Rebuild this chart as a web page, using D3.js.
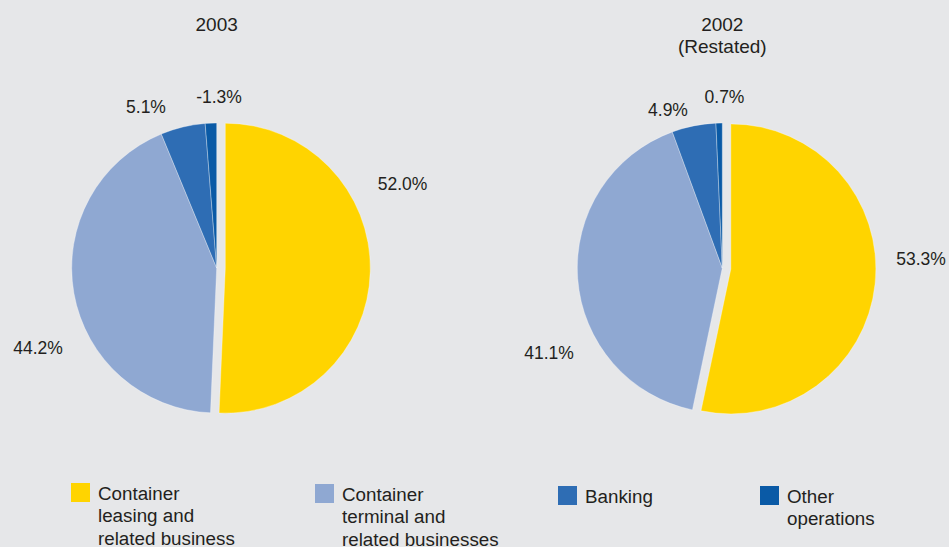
<!DOCTYPE html>
<html>
<head>
<meta charset="utf-8">
<script src="https://cdn.jsdelivr.net/npm/d3@7"></script>
<style>
  html, body { margin: 0; padding: 0; background: #e6e7e9; }
  svg { display: block; }
  text { font-family: "Liberation Sans", Arial, Helvetica, sans-serif; fill: #231f20; }
</style>
</head>
<body>
<svg id="chart" width="949" height="547"></svg>
<script>
// ---- Data ----
const categories = ["Container leasing and related business", "Container terminal and related businesses", "Banking", "Other operations"];
const legendLines = [
  ["Container", "leasing and", "related business"],
  ["Container", "terminal and", "related businesses"],
  ["Banking"],
  ["Other", "operations"]
];
const values2003 = [52.0, 44.2, 5.1, -1.3];
const values2002 = [53.3, 41.1, 4.9, 0.7];
const pieTitles = [["2003"], ["2002", "(Restated)"]];

// ---- Styling / layout ----
const colors = ["#ffd400", "#8fa8d2", "#2e6db4", "#0a5aa6"];
const W = 949, H = 547;
const svg = d3.select("#chart");
svg.append("rect").attr("width", W).attr("height", H).attr("fill", "#e6e7e9");

const radius = 145;
const explode = 8.6;
const pies = [
  { cx: 216.7, cy: 268, values: values2003, title: pieTitles[0],
    labelPos: [[402.5, 190], [38, 354], [146, 113], [219, 103]] },
  { cx: 722.3, cy: 268, values: values2002, title: pieTitles[1],
    labelPos: [[921, 265], [549, 359], [668, 116], [724.5, 103]] }
];

const pieGen = d3.pie().sort(null).value(d => Math.abs(d));
const arcGen = d3.arc().innerRadius(0).outerRadius(radius);
const fmt = v => d3.format(".1f")(v).replace("\u2212", "-");

pies.forEach(p => {
  const g = svg.append("g").attr("transform", `translate(${p.cx},${p.cy})`);
  const arcs = pieGen(p.values);
  g.selectAll("path").data(arcs).enter().append("path")
    .attr("d", arcGen)
    .attr("fill", (d, i) => colors[i])
    .attr("stroke", "rgba(255,255,255,0.55)")
    .attr("stroke-width", 0.6)
    .attr("transform", (d, i) => {
      if (i !== 0) return null;
      const a = (d.startAngle + d.endAngle) / 2;
      return `translate(${explode * Math.sin(a)},${-explode * Math.cos(a)})`;
    });

  // labels
  arcs.forEach((d, i) => {
    svg.append("text")
      .attr("x", p.labelPos[i][0]).attr("y", p.labelPos[i][1])
      .attr("text-anchor", "middle")
      .style("font-size", "17.5px")
      .text(fmt(p.values[i]) + "%");
  });

  // titles
  p.title.forEach((t, j) => {
    svg.append("text")
      .attr("x", p.cx).attr("y", 31 + j * 21.5)
      .attr("text-anchor", "middle")
      .style("font-size", "19px")
      .text(t);
  });
});

// ---- Legend ----
const legendX = [71, 315, 558, 760];
const legendY = [483, 484, 486, 486];
const lg = svg.append("g");
categories.forEach((c, i) => {
  const item = lg.append("g").attr("transform", `translate(${legendX[i]},${legendY[i]})`);
  item.append("rect").attr("width", 19).attr("height", 19).attr("fill", colors[i]);
  const txt = item.append("text").attr("x", 27).attr("y", 17).style("font-size", "18.8px");
  legendLines[i].forEach((ln, j) => {
    txt.append("tspan").attr("x", 27).attr("dy", j === 0 ? 0 : 22.3).text(ln);
  });
});
</script>
</body>
</html>
